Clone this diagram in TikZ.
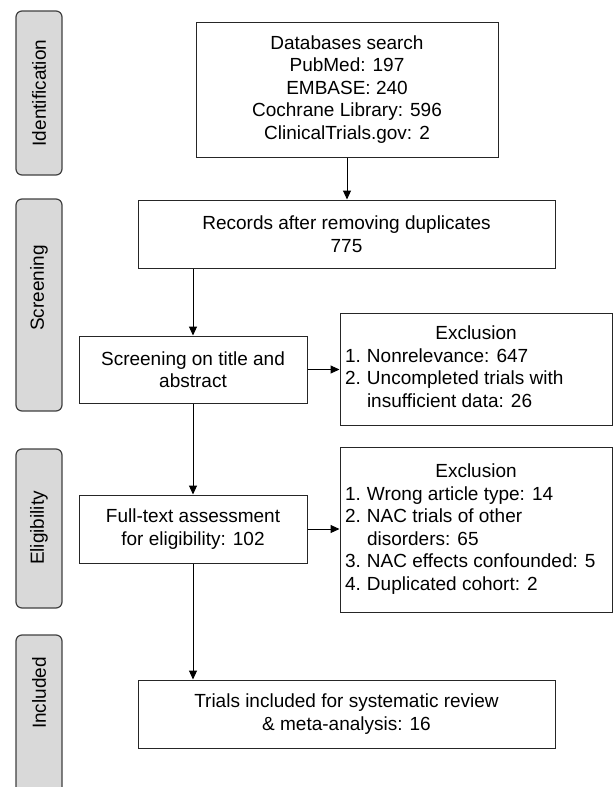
\documentclass[tikz,border=0pt]{standalone}
\usepackage{fontspec}
\setmainfont{Liberation Sans}
\usetikzlibrary{arrows.meta}
\begin{document}
\begin{tikzpicture}[x=1pt,y=-1pt,
  font=\fontsize{19}{22.5}\selectfont,
  tab/.style={draw=black!75, fill=black!15, line width=1.2pt, rounded corners=6pt},
  tablabel/.style={rotate=90, inner sep=0pt},
  box/.style={draw=black!85, line width=1pt, align=center, inner sep=0pt},
  arr/.style={-{Triangle[length=9pt,width=8pt]}, line width=1pt, draw=black}
]
\useasboundingbox (0,0) rectangle (614,787);
\clip (0,0) rectangle (614,787);

% phase tabs
\draw[tab] (16,11) rectangle (62,175);
\draw[tab] (16,199) rectangle (62,411);
\draw[tab] (16,449) rectangle (62,608);
\draw[tab] (16,635) rectangle (62,810);
\node[tablabel] (lid) at (39,93) {Identification};
\node[tablabel] (lsc) at (39,288) {Screening};
\node[tablabel] (lel) at (39,528) {Eligibility};
\node[tablabel] (lin) at (39,693) {Included};

% boxes
\node[box, minimum width=302pt, minimum height=135pt] (db) at (347,89.5)
  {Databases search\\PubMed: 197\\EMBASE: 240\\Cochrane Library: 596\\ClinicalTrials.gov: 2};
\node[box, minimum width=417pt, minimum height=68pt] (rec) at (346.5,234)
  {Records after removing duplicates\\775};
\node[box, minimum width=228pt, minimum height=67pt] (scr) at (193,369.5)
  {Screening on title and\\abstract};
\node[box, minimum width=228pt, minimum height=68pt] (ft) at (193,529)
  {Full-text assessment\\for eligibility: 102};
\node[box, minimum width=417pt, minimum height=68pt] (tr) at (346.5,714)
  {Trials included for systematic review\\\& meta-analysis: 16};
\node[box, minimum width=272pt, minimum height=112pt] (ex1) at (476,369)
  {\begin{tabular}{@{}p{22pt}@{}p{240pt}@{}}
   \multicolumn{2}{@{}c@{}}{Exclusion}\\
   1. & Nonrelevance: 647\\
   2. & Uncompleted trials with\\
      & insufficient data: 26
   \end{tabular}};
\node[box, minimum width=272pt, minimum height=165pt] (ex2) at (476,529.5)
  {\begin{tabular}{@{}p{22pt}@{}p{240pt}@{}}
   \multicolumn{2}{@{}c@{}}{Exclusion}\\
   1. & Wrong article type: 14\\
   2. & NAC trials of other\\
      & disorders: 65\\
   3. & NAC effects confounded: 5\\
   4. & Duplicated cohort: 2
   \end{tabular}};

% connectors
\draw[arr] (db.south) -- (db.south |- rec.north);
\draw[arr] (rec.south -| scr.north) -- (scr.north);
\draw[arr] (scr.south) -- (ft.north);
\draw[arr] (ft.south) -- (ft.south |- tr.north);
\draw[arr] (scr.east) -- (scr.east -| ex1.west);
\draw[arr] (ft.east) -- (ft.east -| ex2.west);
\end{tikzpicture}
\end{document}
